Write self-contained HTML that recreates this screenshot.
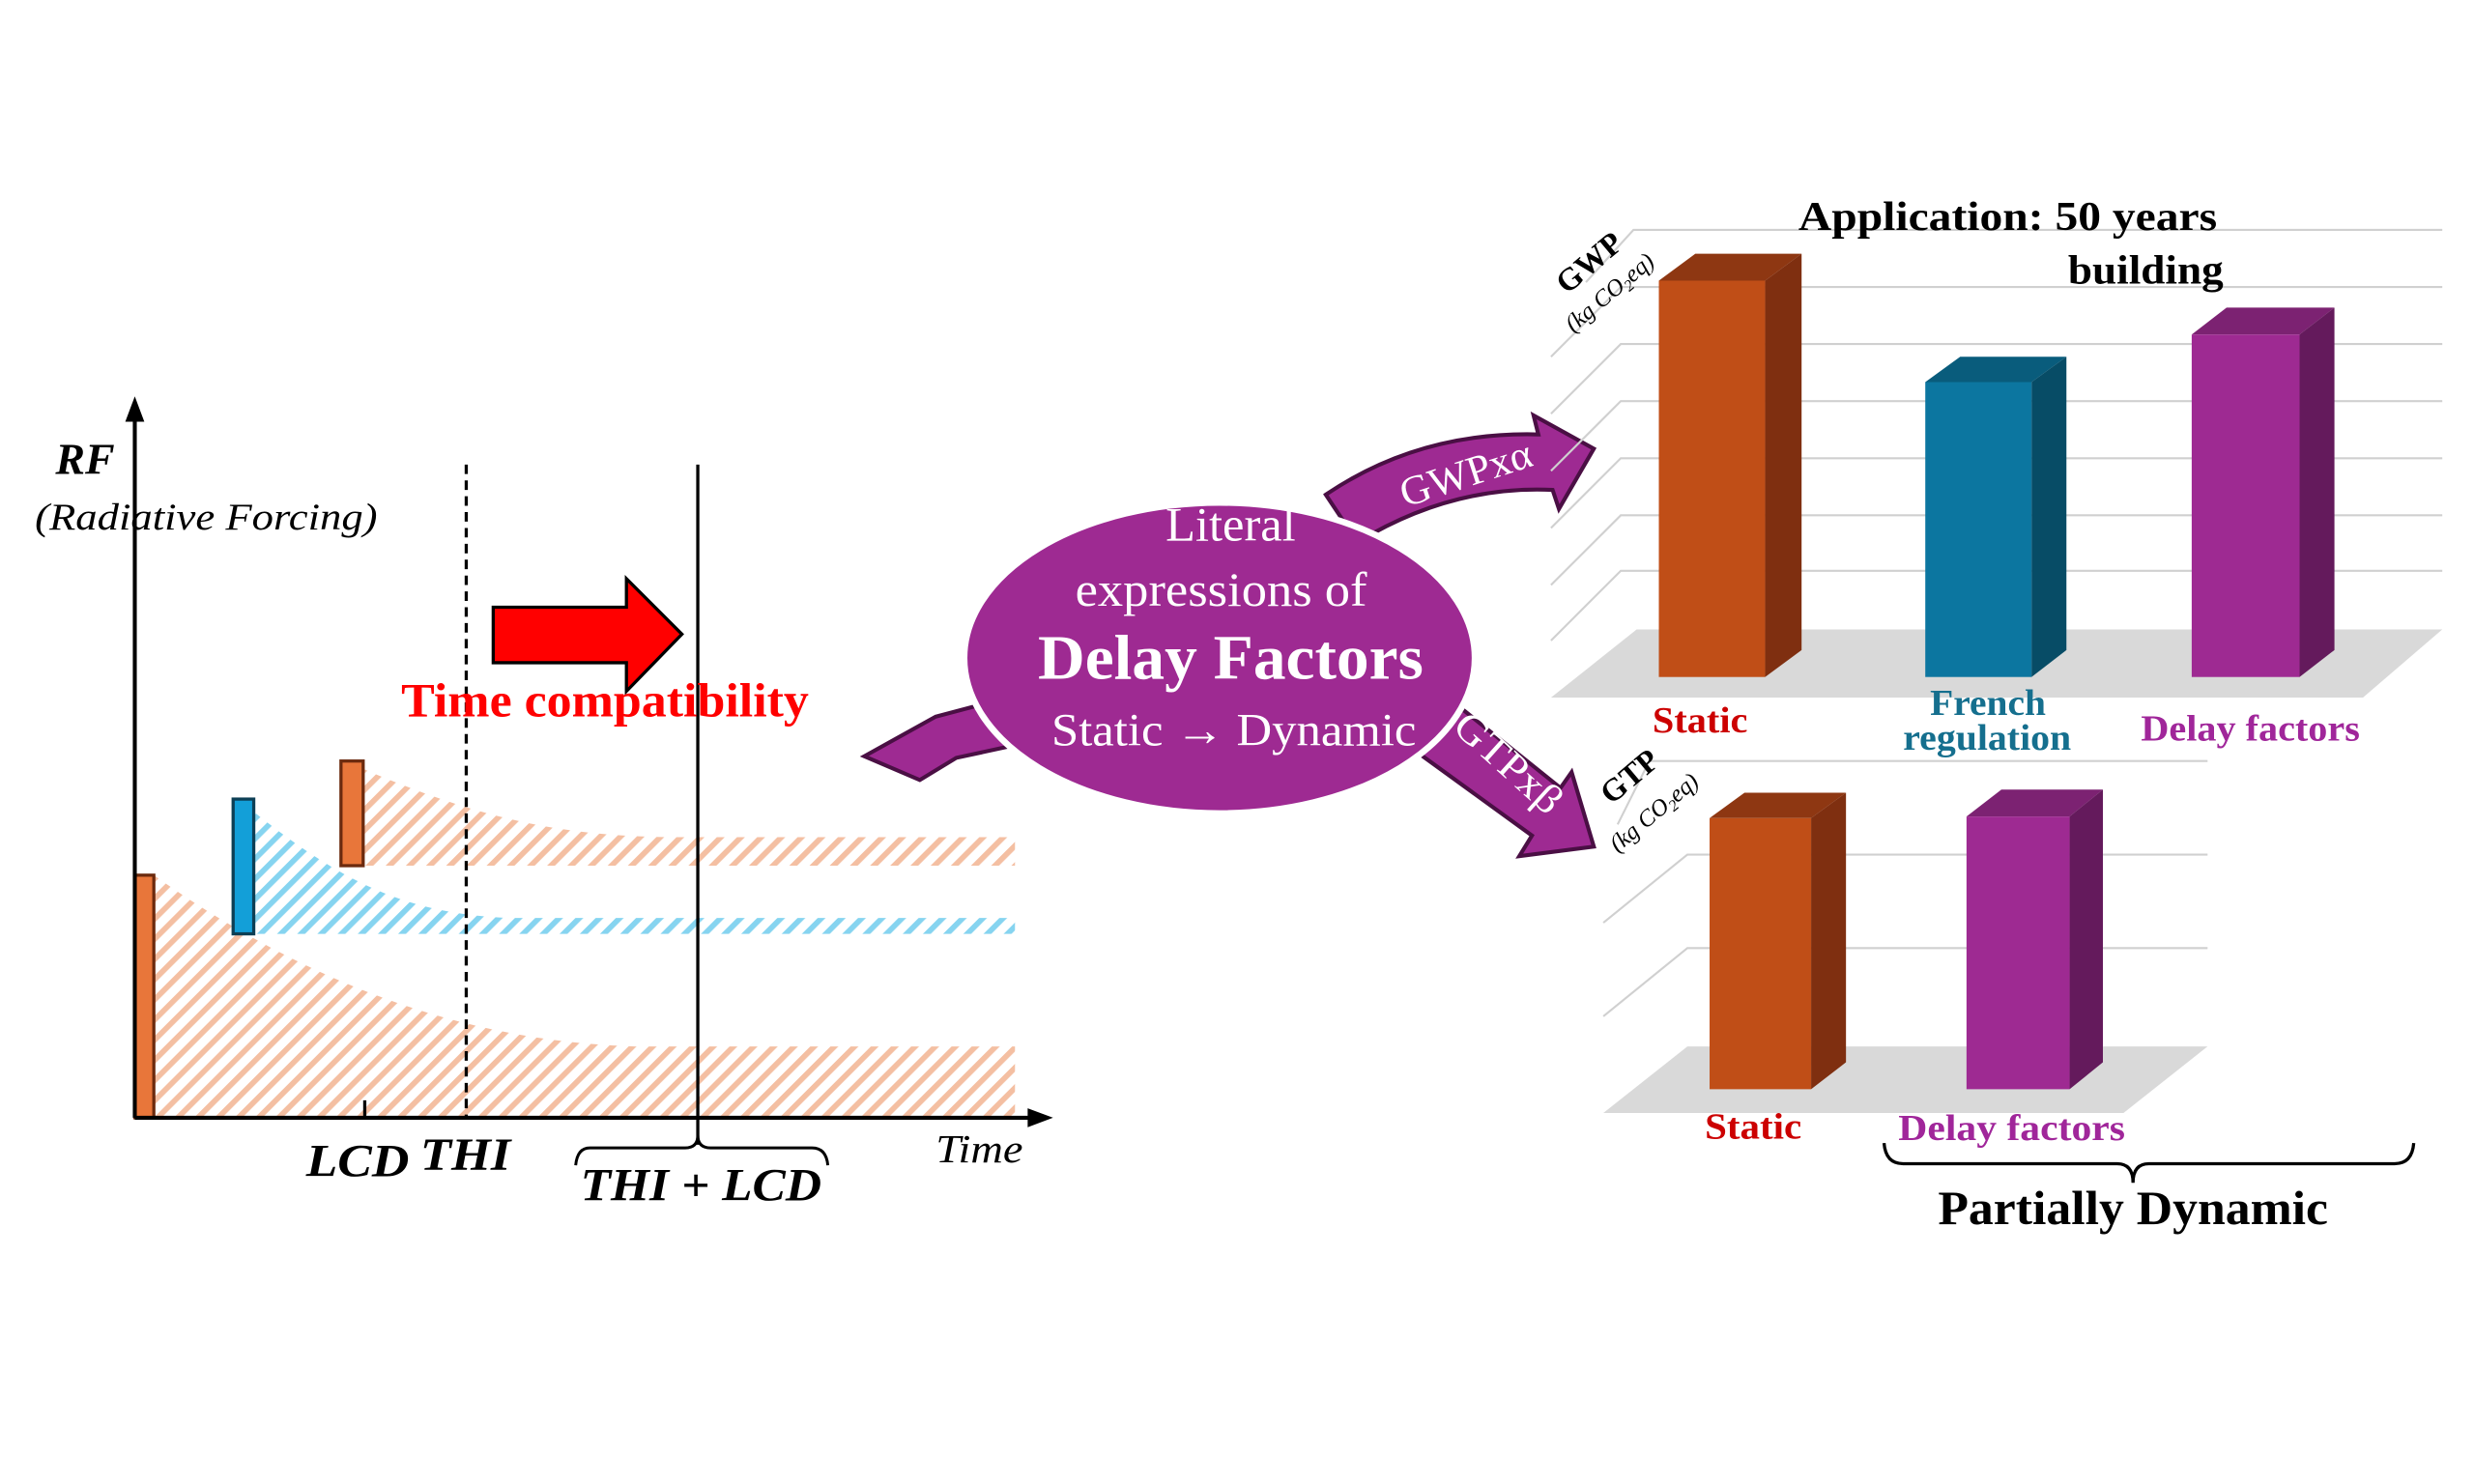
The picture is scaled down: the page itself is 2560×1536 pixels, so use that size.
<!DOCTYPE html>
<html><head><meta charset="utf-8"><style>html,body{margin:0;padding:0;background:#fff;}svg{display:block}</style></head>
<body>
<svg width="2560" height="1536" viewBox="0 0 1560 936" xmlns="http://www.w3.org/2000/svg" font-family="'Liberation Serif', serif">
<defs>
<pattern id="ho" patternUnits="userSpaceOnUse" width="9" height="9" patternTransform="rotate(45)"><rect width="3.5" height="9" fill="#F4BFA2"/></pattern>
<pattern id="hb" patternUnits="userSpaceOnUse" width="9" height="9" patternTransform="rotate(45)"><rect width="3.5" height="9" fill="#86D4F0"/></pattern>
</defs>
<rect width="1560" height="936" fill="#fff"/>
<path d="M97,552 C200,625 300,657 400,660 L640,660 L640,705 L97,705 Z" fill="url(#ho)"/>
<path d="M160,512 C220,560 260,576 320,579 L640,579 L640,589 L160,589 Z" fill="url(#hb)"/>
<path d="M229,485 C300,515 350,527 420,528 L640,528 L640,546 L229,546 Z" fill="url(#ho)"/>
<rect x="85" y="552" width="12" height="153" fill="#E8763A" stroke="#6B2A0E" stroke-width="2"/>
<rect x="147" y="504" width="13" height="85" fill="#139FD8" stroke="#0D3F55" stroke-width="2"/>
<rect x="215" y="480" width="14" height="66" fill="#E8763A" stroke="#6B2A0E" stroke-width="2"/>
<line x1="85" y1="262" x2="85" y2="705" stroke="#000" stroke-width="2.5"/>
<polygon points="85,250 79,266 91,266" fill="#000"/>
<line x1="85" y1="705" x2="652" y2="705" stroke="#000" stroke-width="2.5"/>
<polygon points="664,705 648,699 648,711" fill="#000"/>
<line x1="230" y1="694" x2="230" y2="705" stroke="#000" stroke-width="2"/>
<line x1="294" y1="293" x2="294" y2="705" stroke="#000" stroke-width="2" stroke-dasharray="6,4"/>
<line x1="440" y1="293" x2="440" y2="722" stroke="#000" stroke-width="2"/>
<path d="M363,735 Q364,724 372,724 L432,724 Q440,724 440,716 Q440,724 448,724 L512,724 Q521,724 522,735" fill="none" stroke="#000" stroke-width="1.8"/>
<polygon points="311,383 395,383 395,365 430,400 395,436 395,418 311,418" fill="#FF0000" stroke="#000" stroke-width="2"/>
<text x="253" y="452" font-size="30" font-weight="bold" fill="#FF0000" textLength="257" lengthAdjust="spacingAndGlyphs">Time  compatibility</text>
<text x="35" y="299" font-size="28" font-weight="bold" font-style="italic">RF</text>
<text x="22" y="334" font-size="24" font-style="italic" textLength="216" lengthAdjust="spacingAndGlyphs">(Radiative Forcing)</text>
<text x="193" y="742" font-size="29" font-weight="bold" font-style="italic" textLength="65" lengthAdjust="spacingAndGlyphs">LCD</text>
<text x="265" y="738" font-size="29" font-weight="bold" font-style="italic" textLength="57" lengthAdjust="spacingAndGlyphs">THI</text>
<text x="366" y="757" font-size="29" font-weight="bold" font-style="italic" textLength="152" lengthAdjust="spacingAndGlyphs">THI + LCD</text>
<text x="590" y="733" font-size="25" font-style="italic" textLength="55" lengthAdjust="spacingAndGlyphs">Time</text>
<polygon points="545,477 590,452 628,442 640,470 603,478 580,492" fill="#9E2A92" stroke="#4A0F44" stroke-width="2.5"/>
<path d="M836,312 Q895,272 970,274 L967,262 L1005,283 L983,321 L979,309 Q915,306 856,342 Z" fill="#9E2A92" stroke="#4A0F44" stroke-width="2.5"/>
<path d="M918,444 L984,497 L991,487 L1005,534 L958,540 L966,527 L893,474 Z" fill="#9E2A92" stroke="#4A0F44" stroke-width="2.5"/>
<ellipse cx="769" cy="415" rx="161" ry="98" fill="#9E2A92" stroke="#fff" stroke-width="4"/>
<text x="776" y="341" font-size="30" fill="#fff" text-anchor="middle" textLength="82" lengthAdjust="spacingAndGlyphs">Literal</text>
<text x="770" y="382" font-size="30" fill="#fff" text-anchor="middle" textLength="184" lengthAdjust="spacingAndGlyphs">expressions  of</text>
<text x="776" y="428" font-size="40" font-weight="bold" fill="#fff" text-anchor="middle" textLength="243" lengthAdjust="spacingAndGlyphs">Delay Factors</text>
<text x="778" y="470" font-size="29" fill="#fff" text-anchor="middle" textLength="230" lengthAdjust="spacingAndGlyphs">Static → Dynamic</text>
<text x="0" y="0" font-size="26" fill="#fff" transform="translate(886,320) rotate(-18)" textLength="86" lengthAdjust="spacingAndGlyphs">GWPxα</text>
<text x="0" y="0" font-size="26" fill="#fff" transform="translate(915,460) rotate(42)" textLength="82" lengthAdjust="spacingAndGlyphs">GTPxβ</text>
<g stroke="#D0D0D0" stroke-width="1.3" fill="none">
<path d="M1000,178 L1030,145 L1540,145"/>
<path d="M978,225 L1022,181 L1540,181"/>
<path d="M978,261 L1022,217 L1540,217"/>
<path d="M978,297 L1022,253 L1540,253"/>
<path d="M978,333 L1022,289 L1540,289"/>
<path d="M978,369 L1022,325 L1540,325"/>
<path d="M978,404 L1022,360 L1540,360"/>
</g>
<polygon points="1032,397 1540,397 1490,440 978,440" fill="#D9D9D9"/>
<polygon points="1046,177 1069,160 1136,160 1113,177" fill="#8E3712"/>
<polygon points="1113,177 1136,160 1136,410 1113,427" fill="#7F2F10"/>
<rect x="1046" y="177" width="67" height="250" fill="#C04E17"/>
<polygon points="1214,241 1236,225 1303,225 1281,241" fill="#095C7C"/>
<polygon points="1281,241 1303,225 1303,410 1281,427" fill="#074C66"/>
<rect x="1214" y="241" width="67" height="186" fill="#0C76A0"/>
<polygon points="1382,211 1404,194 1472,194 1450,211" fill="#7C2272"/>
<polygon points="1450,211 1472,194 1472,410 1450,427" fill="#641A5C"/>
<rect x="1382" y="211" width="68" height="216" fill="#9E2A92"/>
<text x="1042" y="462" font-size="23" font-weight="bold" fill="#CC0000" textLength="60" lengthAdjust="spacingAndGlyphs">Static</text>
<text x="1217" y="451" font-size="23" font-weight="bold" fill="#156F8E" textLength="73" lengthAdjust="spacingAndGlyphs">French</text>
<text x="1200" y="473" font-size="23" font-weight="bold" fill="#156F8E" textLength="106" lengthAdjust="spacingAndGlyphs">regulation</text>
<text x="1350" y="467" font-size="23" font-weight="bold" fill="#A0269A" textLength="138" lengthAdjust="spacingAndGlyphs">Delay  factors</text>
<text x="1134" y="145" font-size="26" font-weight="bold" textLength="264" lengthAdjust="spacingAndGlyphs">Application:   50 years</text>
<text x="1304" y="179" font-size="26" font-weight="bold" textLength="98" lengthAdjust="spacingAndGlyphs">building</text>
<text transform="translate(988,186) rotate(-40)" font-size="20" font-weight="bold">GWP</text>
<text transform="translate(992,210) rotate(-40)" font-size="15" font-style="italic">(kg CO<tspan font-size="10" dy="3">2</tspan><tspan dy="-3">eq)</tspan></text>
<g stroke="#D0D0D0" stroke-width="1.3" fill="none">
<path d="M1020,520 L1040,480 L1392,480"/>
<path d="M1011,582 L1064,539 L1392,539"/>
<path d="M1011,641 L1064,598 L1392,598"/>
</g>
<polygon points="1064,660 1392,660 1339,702 1011,702" fill="#D9D9D9"/>
<polygon points="1078,516 1100,500 1164,500 1142,516" fill="#8E3712"/>
<polygon points="1142,516 1164,500 1164,670 1142,687" fill="#7F2F10"/>
<rect x="1078" y="516" width="64" height="171" fill="#C04E17"/>
<polygon points="1240,515 1262,498 1326,498 1305,515" fill="#7C2272"/>
<polygon points="1305,515 1326,498 1326,670 1305,687" fill="#641A5C"/>
<rect x="1240" y="515" width="65" height="172" fill="#9E2A92"/>
<text x="1075" y="718" font-size="23" font-weight="bold" fill="#CC0000" textLength="61" lengthAdjust="spacingAndGlyphs">Static</text>
<text x="1197" y="719" font-size="23" font-weight="bold" fill="#A0269A" textLength="143" lengthAdjust="spacingAndGlyphs">Delay  factors</text>
<text transform="translate(1016,508) rotate(-40)" font-size="20" font-weight="bold">GTP</text>
<text transform="translate(1020,538) rotate(-40)" font-size="15" font-style="italic">(kg CO<tspan font-size="10" dy="3">2</tspan><tspan dy="-3">eq)</tspan></text>
<path d="M1188,721 Q1189,734 1200,734 L1335,734 Q1345,734 1345,746 Q1345,734 1355,734 L1510,734 Q1521,734 1522,721" fill="none" stroke="#000" stroke-width="2"/>
<text x="1222" y="772" font-size="30" font-weight="bold" textLength="246" lengthAdjust="spacingAndGlyphs">Partially  Dynamic</text>
</svg>
</body></html>
